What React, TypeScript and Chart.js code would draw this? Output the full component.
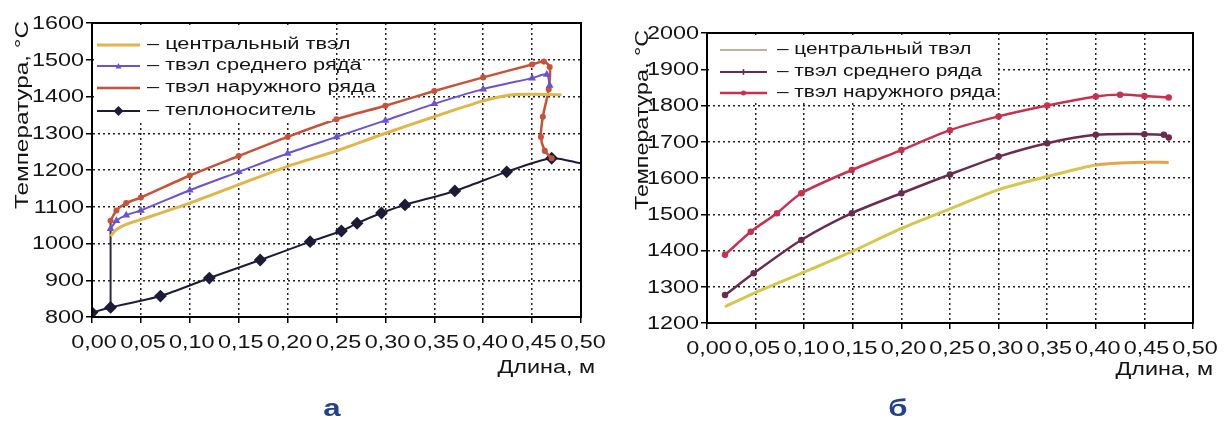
import React, { useEffect, useRef, useState } from "react";
import { Chart, registerables } from "chart.js";

Chart.register(...registerables);

// ---------- texts ----------
const xTickLabels = ["0,00", "0,05", "0,10", "0,15", "0,20", "0,25", "0,30", "0,35", "0,40", "0,45", "0,50"];
const aYTickLabels = ["800", "900", "1000", "1100", "1200", "1300", "1400", "1500", "1600"];
const bYTickLabels = ["1200", "1300", "1400", "1500", "1600", "1700", "1800", "1900", "2000"];
const seriesLabels = ["центральный твэл", "твэл среднего ряда", "твэл наружного ряда", "теплоноситель"];
const yAxisTitle = "Температура, °С";
const xAxisTitle = "Длина, м";
const panelTags = ["а", "б"];

// ---------- chart а (left) ----------
const aCentralX = [0.019, 0.025, 0.035, 0.05, 0.1, 0.15, 0.2, 0.25, 0.3, 0.35, 0.4, 0.43, 0.48];
const aCentralY = [1020, 1038, 1052, 1065, 1110, 1160, 1210, 1252, 1300, 1345, 1388, 1405, 1405];

const aMiddleX = [0.019, 0.025, 0.035, 0.05, 0.1, 0.15, 0.2, 0.25, 0.3, 0.35, 0.4, 0.45, 0.465, 0.468];
const aMiddleY = [1040, 1062, 1077, 1090, 1145, 1195, 1245, 1290, 1335, 1380, 1420, 1450, 1460, 1430];

const aOuterX = [0.019, 0.025, 0.035, 0.05, 0.1, 0.15, 0.2, 0.25, 0.3, 0.35, 0.4, 0.45, 0.462, 0.468, 0.467, 0.461, 0.459, 0.463, 0.47];
const aOuterY = [1062, 1090, 1110, 1125, 1185, 1238, 1290, 1338, 1375, 1415, 1452, 1487, 1495, 1480, 1420, 1345, 1290, 1252, 1232];

const aCoolantX = [0.0, 0.019, 0.07, 0.12, 0.172, 0.223, 0.255, 0.271, 0.296, 0.32, 0.371, 0.424, 0.47, 0.5];
const aCoolantY = [812, 826, 857, 906, 955, 1005, 1034, 1055, 1083, 1105, 1143, 1195, 1232, 1218];

const aConnectorX = [0.019, 0.019];
const aConnectorY = [826, 1062];

// ---------- chart б (right) ----------
const bCentralX = [0.0185, 0.048, 0.097, 0.149, 0.2, 0.25, 0.3, 0.35, 0.4, 0.44, 0.475];
const bCentralY = [1245, 1282, 1337, 1397, 1461, 1515, 1568, 1604, 1636, 1643, 1643];

const bMiddleX = [0.0185, 0.048, 0.097, 0.149, 0.2, 0.25, 0.3, 0.35, 0.4, 0.45, 0.47, 0.475];
const bMiddleY = [1277, 1337, 1429, 1503, 1558, 1610, 1659, 1696, 1719, 1721, 1719, 1712];

const bOuterX = [0.0185, 0.045, 0.072, 0.097, 0.149, 0.2, 0.25, 0.3, 0.35, 0.4, 0.425, 0.45, 0.475];
const bOuterY = [1388, 1452, 1503, 1558, 1622, 1677, 1732, 1770, 1800, 1825, 1830, 1826, 1822];

const pts = (xs: number[], ys: number[]) => xs.map((x, i) => ({ x, y: ys[i] }));

const FONT = '"Liberation Sans", Arial, sans-serif';
const W = 612;
const H = 423;
const TEXT = "#141414";

function drawText(
  ctx: CanvasRenderingContext2D,
  text: string,
  x: number,
  y: number,
  font: string,
  o: { align?: CanvasTextAlign; sx?: number; rotate?: number; color?: string; width?: number; baseline?: CanvasTextBaseline } = {}
) {
  ctx.save();
  ctx.font = font;
  ctx.fillStyle = o.color ?? TEXT;
  ctx.textBaseline = o.baseline ?? "middle";
  ctx.textAlign = o.align ?? "left";
  ctx.translate(x, y);
  if (o.rotate) ctx.rotate(o.rotate);
  const w = ctx.measureText(text).width;
  const sx = o.width ? o.width / w : o.sx ?? 1;
  ctx.scale(sx, 1);
  ctx.fillText(text, 0, 0);
  ctx.restore();
}

function drawMarker(ctx: CanvasRenderingContext2D, style: string, x: number, y: number, r: number, color: string) {
  ctx.save();
  ctx.fillStyle = color;
  ctx.strokeStyle = color;
  ctx.lineWidth = 1.5;
  ctx.beginPath();
  if (style === "triangle") {
    ctx.moveTo(x, y - r);
    ctx.lineTo(x + r, y + r * 0.8);
    ctx.lineTo(x - r, y + r * 0.8);
    ctx.closePath();
    ctx.fill();
  } else if (style === "rectRot") {
    ctx.moveTo(x, y - r);
    ctx.lineTo(x + r, y);
    ctx.lineTo(x, y + r);
    ctx.lineTo(x - r, y);
    ctx.closePath();
    ctx.fill();
  } else if (style === "cross") {
    ctx.moveTo(x, y - r);
    ctx.lineTo(x, y + r);
    ctx.stroke();
  } else {
    ctx.arc(x, y, r, 0, Math.PI * 2);
    ctx.fill();
  }
  ctx.restore();
}

interface LegendItem {
  label: string;
  color: string;
  width: number;
  pointStyle?: string;
  radius?: number;
}

interface Panel {
  yMin: number;
  yMax: number;
  yTickLabels: string[];
  area: { left: number; top: number; right: number; bottom: number };
  legend: { right: number; bottom: number; rows: number[]; lineX: [number, number]; textX: number; sx: number };
  yTitle: { x: number; y: number; length: number };
  xTitle: { right: number; y: number };
  tag: { text: string; x: number };
  datasets: any[];
  legendItems: LegendItem[];
}

// texts and legend on a canvas placed over the chart, positioned from the chart's own scales
function drawDecor(ctx: CanvasRenderingContext2D, chart: any, p: Panel) {
  ctx.setTransform(1, 0, 0, 1, 0, 0);
  ctx.clearRect(0, 0, W, H);
  const a = chart.chartArea;
  const xs = chart.scales.x;
  const ys = chart.scales.y;

  // legend background hides the grid behind it
  ctx.fillStyle = "#ffffff";
  ctx.fillRect(a.left + 2, a.top + 2, p.legend.right - a.left - 2, p.legend.bottom - a.top - 2);

  p.legendItems.forEach((it, i) => {
    const y = p.legend.rows[i];
    ctx.save();
    ctx.strokeStyle = it.color;
    ctx.lineWidth = it.width;
    ctx.beginPath();
    ctx.moveTo(p.legend.lineX[0], y);
    ctx.lineTo(p.legend.lineX[1], y);
    ctx.stroke();
    ctx.restore();
    if (it.pointStyle) drawMarker(ctx, it.pointStyle, (p.legend.lineX[0] + p.legend.lineX[1]) / 2, y, it.radius ?? 3, it.color);
    drawText(ctx, "– " + it.label, p.legend.textX, y, `16px ${FONT}`, { sx: p.legend.sx });
  });

  ys.ticks.forEach((t: any) => {
    const lab = p.yTickLabels[Math.round((t.value - p.yMin) / 100)];
    if (lab === undefined) return;
    drawText(ctx, lab, a.left - 8, ys.getPixelForValue(t.value) + 1, `18px ${FONT}`, { align: "right", sx: 1.3 });
  });
  xs.ticks.forEach((t: any) => {
    const lab = xTickLabels[Math.round(t.value / 0.05)];
    if (lab === undefined) return;
    drawText(ctx, lab, xs.getPixelForValue(t.value) + 2, a.bottom + 26, `18px ${FONT}`, { align: "center", sx: 1.3 });
  });

  drawText(ctx, yAxisTitle, p.yTitle.x, p.yTitle.y, `18px ${FONT}`, { align: "center", rotate: -Math.PI / 2, width: p.yTitle.length });
  drawText(ctx, xAxisTitle, p.xTitle.right, p.xTitle.y, `18px ${FONT}`, { align: "right", sx: 1.3 });
  drawText(ctx, p.tag.text, p.tag.x, 416, `bold 24px ${FONT}`, { align: "center", sx: 1.3, color: "#22408c", baseline: "alphabetic" });
}

const frameBox = {
  id: "frameBox",
  afterDraw(chart: any) {
    const ctx = chart.ctx;
    const a = chart.chartArea;
    ctx.save();
    ctx.strokeStyle = "#000";
    ctx.lineWidth = 2;
    ctx.strokeRect(a.left, a.top, a.right - a.left, a.bottom - a.top);
    ctx.restore();
  },
};

function makeChart(canvas: HTMLCanvasElement, p: Panel) {
  const axis = (extra: any) => ({
    type: "linear",
    ticks: { display: false, ...extra.ticks },
    grid: { color: "#222", lineWidth: 1.5, tickLength: 6, tickColor: "#000", tickWidth: 1.5 },
    border: { display: true, color: "#000", width: 2, dash: [2, 3] },
    ...extra.rest,
  });
  return new Chart(canvas, {
    type: "line",
    data: { datasets: p.datasets },
    plugins: [frameBox],
    options: {
      animation: false,
      responsive: false,
      layout: { padding: { left: 0, top: p.area.top, right: W - p.area.right, bottom: 0 } },
      plugins: { legend: { display: false }, tooltip: { enabled: false } },
      elements: { line: { tension: 0.25 } },
      scales: {
        x: axis({
          ticks: { stepSize: 0.05 },
          rest: {
            min: 0,
            max: 0.5,
            afterFit: (s: any) => {
              s.height = H - p.area.bottom;
            },
          },
        }),
        y: axis({
          ticks: { stepSize: 100 },
          rest: {
            min: p.yMin,
            max: p.yMax,
            afterFit: (s: any) => {
              s.width = p.area.left;
            },
          },
        }),
      },
    } as any,
  });
}

const A_CENTRAL = "#e2b548";
const A_MIDDLE = "#6a52d4";
const A_OUTER = "#c85238";
const A_COOL = "#1c1c38";
const B_CENTRAL = "#d6c64c";
const B_CENTRAL_END = "#e8a448";
const B_MIDDLE = "#6b2b4f";
const B_OUTER = "#c8304e";

const panelA: Panel = {
  yMin: 800,
  yMax: 1600,
  yTickLabels: aYTickLabels,
  area: { left: 92, top: 23, right: 581, bottom: 317 },
  legend: { right: 332, bottom: 121, rows: [45, 66, 88, 111], lineX: [97, 140], textX: 147, sx: 1.36 },
  yTitle: { x: 23, y: 115, length: 188 },
  xTitle: { right: 595, y: 368 },
  tag: { text: panelTags[0], x: 332 },
  datasets: [
    { label: seriesLabels[0], data: pts(aCentralX, aCentralY), borderColor: A_CENTRAL, borderWidth: 3, pointRadius: 0 },
    { label: seriesLabels[1], data: pts(aMiddleX, aMiddleY), borderColor: A_MIDDLE, backgroundColor: A_MIDDLE, borderWidth: 2, pointStyle: "triangle", pointRadius: 2.5 },
    { label: seriesLabels[2], data: pts(aOuterX, aOuterY), borderColor: A_OUTER, backgroundColor: A_OUTER, borderWidth: 2.5, pointRadius: 1.8 },
    {
      label: seriesLabels[3],
      data: pts(aCoolantX, aCoolantY),
      borderColor: A_COOL,
      backgroundColor: A_COOL,
      borderWidth: 2,
      pointStyle: "rectRot",
      pointRadius: (c: any) => (c.dataIndex === aCoolantX.length - 1 ? 0 : 5),
    },
    { label: "", data: pts(aConnectorX, aConnectorY), borderColor: "#2a2a40", borderWidth: 2, pointRadius: 0 },
  ],
  legendItems: [
    { label: seriesLabels[0], color: A_CENTRAL, width: 3 },
    { label: seriesLabels[1], color: A_MIDDLE, width: 2, pointStyle: "triangle", radius: 3 },
    { label: seriesLabels[2], color: A_OUTER, width: 2.5 },
    { label: seriesLabels[3], color: A_COOL, width: 2, pointStyle: "rectRot", radius: 5 },
  ],
};

const panelB: Panel = {
  yMin: 1200,
  yMax: 2000,
  yTickLabels: bYTickLabels,
  area: { left: 95, top: 33, right: 581, bottom: 323 },
  legend: { right: 384, bottom: 103, rows: [50, 72, 93], lineX: [108, 155], textX: 165, sx: 1.3 },
  yTitle: { x: 31, y: 120, length: 180 },
  xTitle: { right: 601, y: 370 },
  tag: { text: panelTags[1], x: 286 },
  datasets: [
    {
      label: seriesLabels[0],
      data: pts(bCentralX, bCentralY),
      borderColor: B_CENTRAL,
      borderWidth: 3,
      pointRadius: 0,
      segment: { borderColor: (c: any) => (c.p0.parsed.x >= 0.38 ? B_CENTRAL_END : B_CENTRAL) },
    },
    { label: seriesLabels[1], data: pts(bMiddleX, bMiddleY), borderColor: B_MIDDLE, backgroundColor: B_MIDDLE, borderWidth: 2.5, pointRadius: 2 },
    { label: seriesLabels[2], data: pts(bOuterX, bOuterY), borderColor: B_OUTER, backgroundColor: B_OUTER, borderWidth: 2.5, pointRadius: 2 },
  ],
  legendItems: [
    { label: seriesLabels[0], color: "#b9b2a0", width: 2 },
    { label: seriesLabels[1], color: B_MIDDLE, width: 2, pointStyle: "cross", radius: 3 },
    { label: seriesLabels[2], color: B_OUTER, width: 2.5, pointStyle: "circle", radius: 2.5 },
  ],
};

export default function App() {
  const leftRef = useRef<HTMLCanvasElement>(null);
  const leftOver = useRef<HTMLCanvasElement>(null);
  const rightRef = useRef<HTMLCanvasElement>(null);
  const rightOver = useRef<HTMLCanvasElement>(null);

  useEffect(() => {
    const c1 = makeChart(leftRef.current!, panelA);
    const c2 = makeChart(rightRef.current!, panelB);
    drawDecor(leftOver.current!.getContext("2d")!, c1, panelA);
    drawDecor(rightOver.current!.getContext("2d")!, c2, panelB);
    return () => {
      c1.destroy();
      c2.destroy();
    };
  }, []);

  const abs = (left: number) => ({ position: "absolute" as const, left, top: 0, pointerEvents: "none" as const });
  return (
    <div style={{ position: "absolute", left: 0, top: 0, width: 1224, height: 423 }}>
      <canvas ref={leftRef} width={W} height={H} style={abs(0)} />
      <canvas ref={leftOver} width={W} height={H} style={abs(0)} />
      <canvas ref={rightRef} width={W} height={H} style={abs(612)} />
      <canvas ref={rightOver} width={W} height={H} style={abs(612)} />
    </div>
  );
}
